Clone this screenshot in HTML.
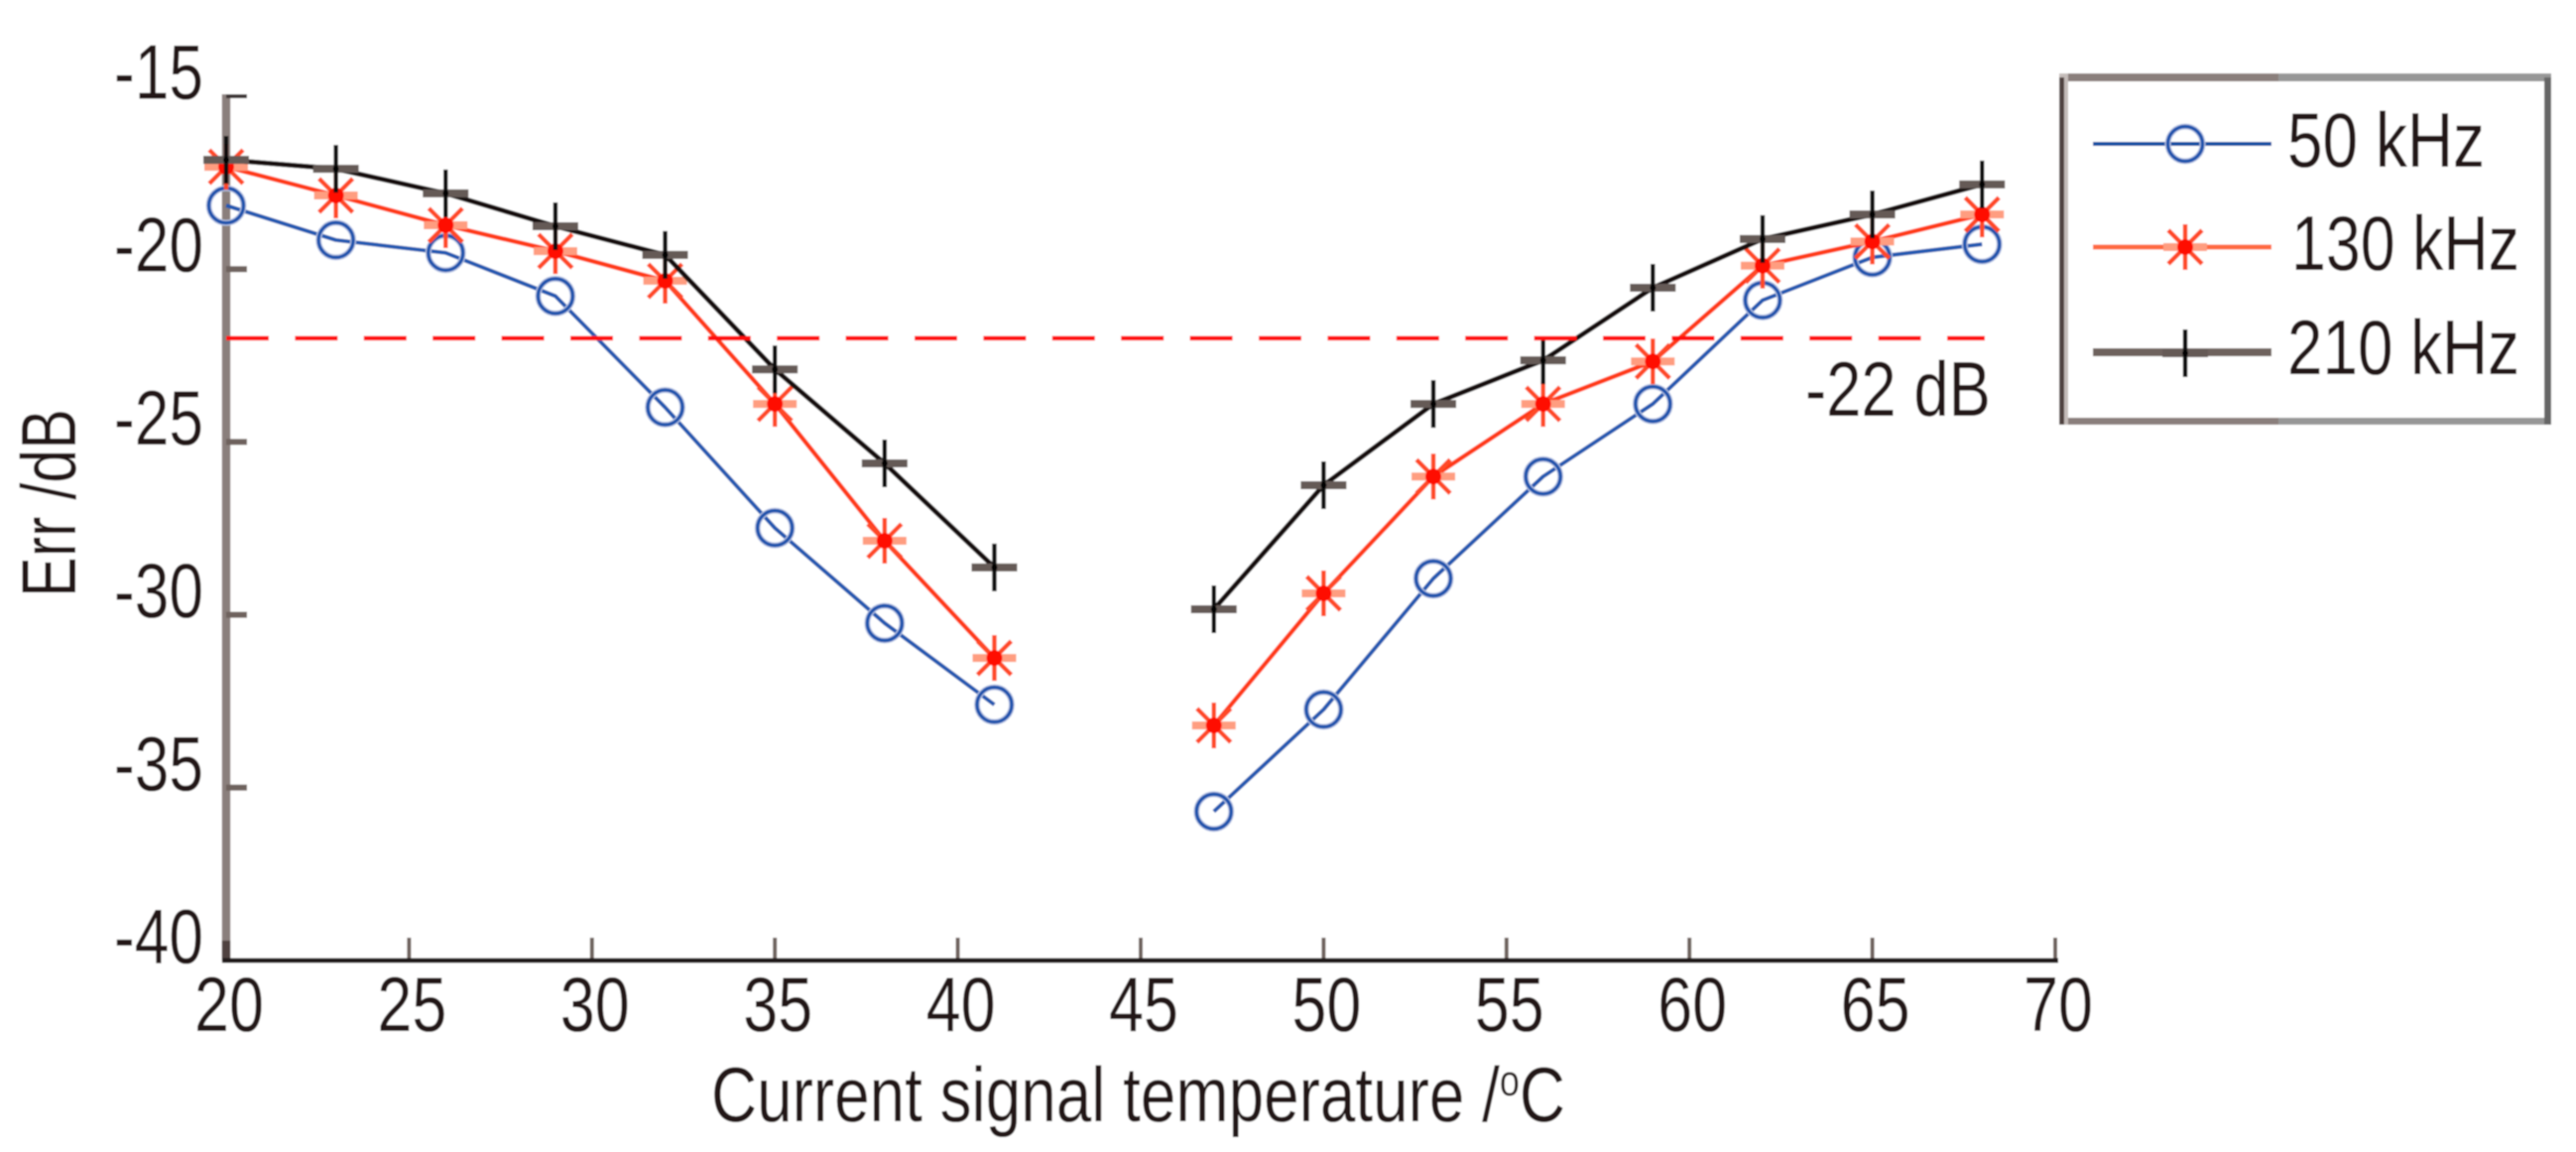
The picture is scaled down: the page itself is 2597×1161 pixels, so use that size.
<!DOCTYPE html>
<html lang="en">
<head>
<meta charset="utf-8">
<title>Err vs current signal temperature</title>
<style>
html,body{margin:0;padding:0;background:#fff;}
svg{display:block;}
text{font-family:"Liberation Sans",sans-serif;fill:#231815;font-size:78px;}
</style>
</head>
<body>
<svg id="chart" xmlns="http://www.w3.org/2000/svg" width="2597" height="1161" viewBox="0 0 2597 1161">
  <defs>
    <filter id="soften" x="0" y="0" width="100%" height="100%" filterUnits="objectBoundingBox">
      <feGaussianBlur stdDeviation="0.8"/>
    </filter>
  </defs>
  <g filter="url(#soften)">
  <rect x="0" y="0" width="2597" height="1161" fill="#fff"/>
  <g id="axes"></g>
  <g id="plot"></g>
  <text x="1820" y="419" textLength="187" lengthAdjust="spacingAndGlyphs">-22 dB</text>
  <text x="717" y="1130" textLength="861" lengthAdjust="spacingAndGlyphs">Current signal temperature /<tspan dy="-26" font-size="44" style="font-size:44px">o</tspan><tspan dy="26">C</tspan></text>
  <text transform="translate(76 602) rotate(-90)" x="0" y="0" textLength="190" lengthAdjust="spacingAndGlyphs">Err /dB</text>
  <g id="legend">
    <rect x="2076" y="74" width="495" height="354" fill="#fff"/>
    <rect x="2076" y="74" width="221" height="8" fill="#8a7f7c"/>
    <rect x="2297" y="74" width="275" height="8" fill="#979797"/>
    <rect x="2076" y="421" width="221" height="7" fill="#8a7f7c"/>
    <rect x="2297" y="421" width="275" height="7" fill="#979797"/>
    <rect x="2076" y="74" width="9" height="354" fill="#c4bcb9"/>
    <rect x="2076" y="78" width="5" height="350" fill="#4f4340"/>
    <rect x="2565" y="78" width="7" height="350" fill="#666"/>
    <line x1="2110" x2="2290" y1="145" y2="145" stroke="#0b4ea2" stroke-width="4"/>
    <line x1="2110" x2="2290" y1="249" y2="249" stroke="#ff6a40" stroke-width="5"/>
    <line x1="2110" x2="2290" y1="355" y2="355" stroke="#6e625d" stroke-width="8"/>
    <text x="2306" y="168" textLength="199" lengthAdjust="spacingAndGlyphs">50 kHz</text>
    <text x="2310" y="272" textLength="230" lengthAdjust="spacingAndGlyphs">130 kHz</text>
    <text x="2306" y="377" textLength="234" lengthAdjust="spacingAndGlyphs">210 kHz</text>
  </g>
  </g>
</svg>
<script>
const temperatures = [20, 23, 26, 29, 32, 35, 38, 41, 47, 50, 53, 56, 59, 62, 65, 68];
const series50kHz = [-18.16, -19.16, -19.53, -20.78, -24.0, -27.49, -30.24, -32.6, -35.69, -32.74, -28.95, -26.0, -23.9, -20.9, -19.66, -19.28];
const series130kHz = [-17.04, -17.87, -18.73, -19.48, -20.34, -23.9, -27.86, -31.25, -33.2, -29.38, -26.0, -23.9, -22.67, -19.9, -19.2, -18.42];
const series210kHz = [-16.84, -17.1, -17.81, -18.76, -19.59, -22.9, -25.62, -28.63, -29.84, -26.25, -23.9, -22.64, -20.54, -19.13, -18.42, -17.55];
const xTickValues = [20, 25, 30, 35, 40, 45, 50, 55, 60, 65, 70];
const yTickValues = [-15, -20, -25, -30, -35, -40];
const thresholdValue = -22;

const SVGNS = 'http://www.w3.org/2000/svg';
const axes = document.getElementById('axes');
const plot = document.getElementById('plot');
const legend = document.getElementById('legend');

function xScale(v) { return 228 + (v - 20) * 36.88; }
function yScale(v) { return 97 + (-15 - v) * 34.84; }

function make(tag, parent, props) {
  const el = document.createElementNS(SVGNS, tag);
  for (const k in props) el.setAttribute(k, props[k]);
  parent.appendChild(el);
  return el;
}

/* axes */
const yAxisLine = make('line', axes, {x1: 228, x2: 228, y1: 95, y2: 970, stroke: '#8a7f7c', 'stroke-width': 8.5});



yTickValues.forEach(function (v, i) {
  if (i < yTickValues.length - 1) {
    const tick = make('line', axes, {x1: 228, x2: 249, y1: yScale(v), y2: yScale(v), stroke: i === 0 ? '#3a3230' : '#6e625d', 'stroke-width': i === 0 ? 4 : 6});
    
    
  }
  const label = make('text', axes, {x: 115, y: yScale(v) + 2.5, textLength: 90, lengthAdjust: 'spacingAndGlyphs'});
  label.textContent = String(v);
  
  
});

xTickValues.forEach(function (v, i) {
  const tick = make('line', axes, {x1: xScale(v), x2: xScale(v), y1: i === 0 ? 948 : 945, y2: 968, stroke: i === 0 ? '#4f4340' : '#6e625d', 'stroke-width': i === 0 ? 8.5 : 4});
  
  
  const label = make('text', axes, {x: xScale(v) + 3, y: 1039, 'text-anchor': 'middle', textLength: 70, lengthAdjust: 'spacingAndGlyphs'});
  label.textContent = String(v);
  
  
});

const xAxisLine = make('line', axes, {x1: 224, x2: 2075, y1: 968, y2: 968, stroke: '#231f1f', 'stroke-width': 5});



/* marker drawing */
function drawCircle(parent, cx, cy) {
  make('circle', parent, {cx: cx, cy: cy, r: 17.5, fill: 'none', stroke: '#b9c6e6', 'stroke-width': 6});
  make('circle', parent, {cx: cx, cy: cy, r: 17.5, fill: 'none', stroke: '#1a52ac', 'stroke-width': 3.5});
}
function drawStar(parent, cx, cy) {
  make('line', parent, {x1: cx - 22, x2: cx + 22, y1: cy, y2: cy, stroke: '#ff9d80', 'stroke-width': 8});
  make('line', parent, {x1: cx, x2: cx, y1: cy - 23, y2: cy + 23, stroke: '#ff4a26', 'stroke-width': 4.5});
  make('line', parent, {x1: cx - 17, x2: cx + 17, y1: cy - 17, y2: cy + 17, stroke: '#ff4a26', 'stroke-width': 4.5});
  make('line', parent, {x1: cx - 17, x2: cx + 17, y1: cy + 17, y2: cy - 17, stroke: '#ff4a26', 'stroke-width': 4.5});
  make('circle', parent, {cx: cx, cy: cy, r: 8, fill: '#ff0f00'});
}
function drawPlus(parent, cx, cy) {
  make('line', parent, {x1: cx - 23, x2: cx + 23, y1: cy, y2: cy, stroke: '#655a56', 'stroke-width': 8});
  make('line', parent, {x1: cx, x2: cx, y1: cy - 24, y2: cy + 24, stroke: '#111', 'stroke-width': 4.5});
  make('circle', parent, {cx: cx, cy: cy, r: 3, fill: '#000'});
}

function segmentsFor(values) {
  const segments = [[]];
  temperatures.forEach(function (t, i) {
    if (i > 0 && t - temperatures[i - 1] > 3) segments.push([]);
    segments[segments.length - 1].push(xScale(t) + ',' + yScale(values[i]));
  });
  return segments;
}

function drawSeriesLines(values, color, width) {
  segmentsFor(values).forEach(function (pts) {
    const line = make('polyline', plot, {points: pts.join(' '), fill: 'none', stroke: color, 'stroke-width': width, 'stroke-linejoin': 'round'});
    
    
  });
}

function drawSeriesMarkers(values, drawer) {
  temperatures.forEach(function (t, i) {
    const g = make('g', plot, {});
    
    
    drawer(g, xScale(t), yScale(values[i]));
  });
}

drawSeriesLines(series50kHz, '#2458b0', 4);
drawSeriesMarkers(series50kHz, drawCircle);
drawSeriesLines(series130kHz, '#ff3a18', 4.5);
drawSeriesMarkers(series130kHz, drawStar);
drawSeriesLines(series210kHz, '#141010', 5);
drawSeriesMarkers(series210kHz, drawPlus);

const thresholdLine = make('line', plot, {x1: 228, x2: 2001, y1: yScale(thresholdValue), y2: yScale(thresholdValue), stroke: '#ff0a0a', 'stroke-width': 4.5, 'stroke-dasharray': '43 26.4'});



/* legend markers */
const legendMarkerCircle = make('g', legend, {});


drawCircle(legendMarkerCircle, 2203, 145);

const legendMarkerStar = make('g', legend, {});


drawStar(legendMarkerStar, 2203, 249);

const legendMarkerPlus = make('g', legend, {});


drawPlus(legendMarkerPlus, 2203, 356);
</script>
</body>
</html>
